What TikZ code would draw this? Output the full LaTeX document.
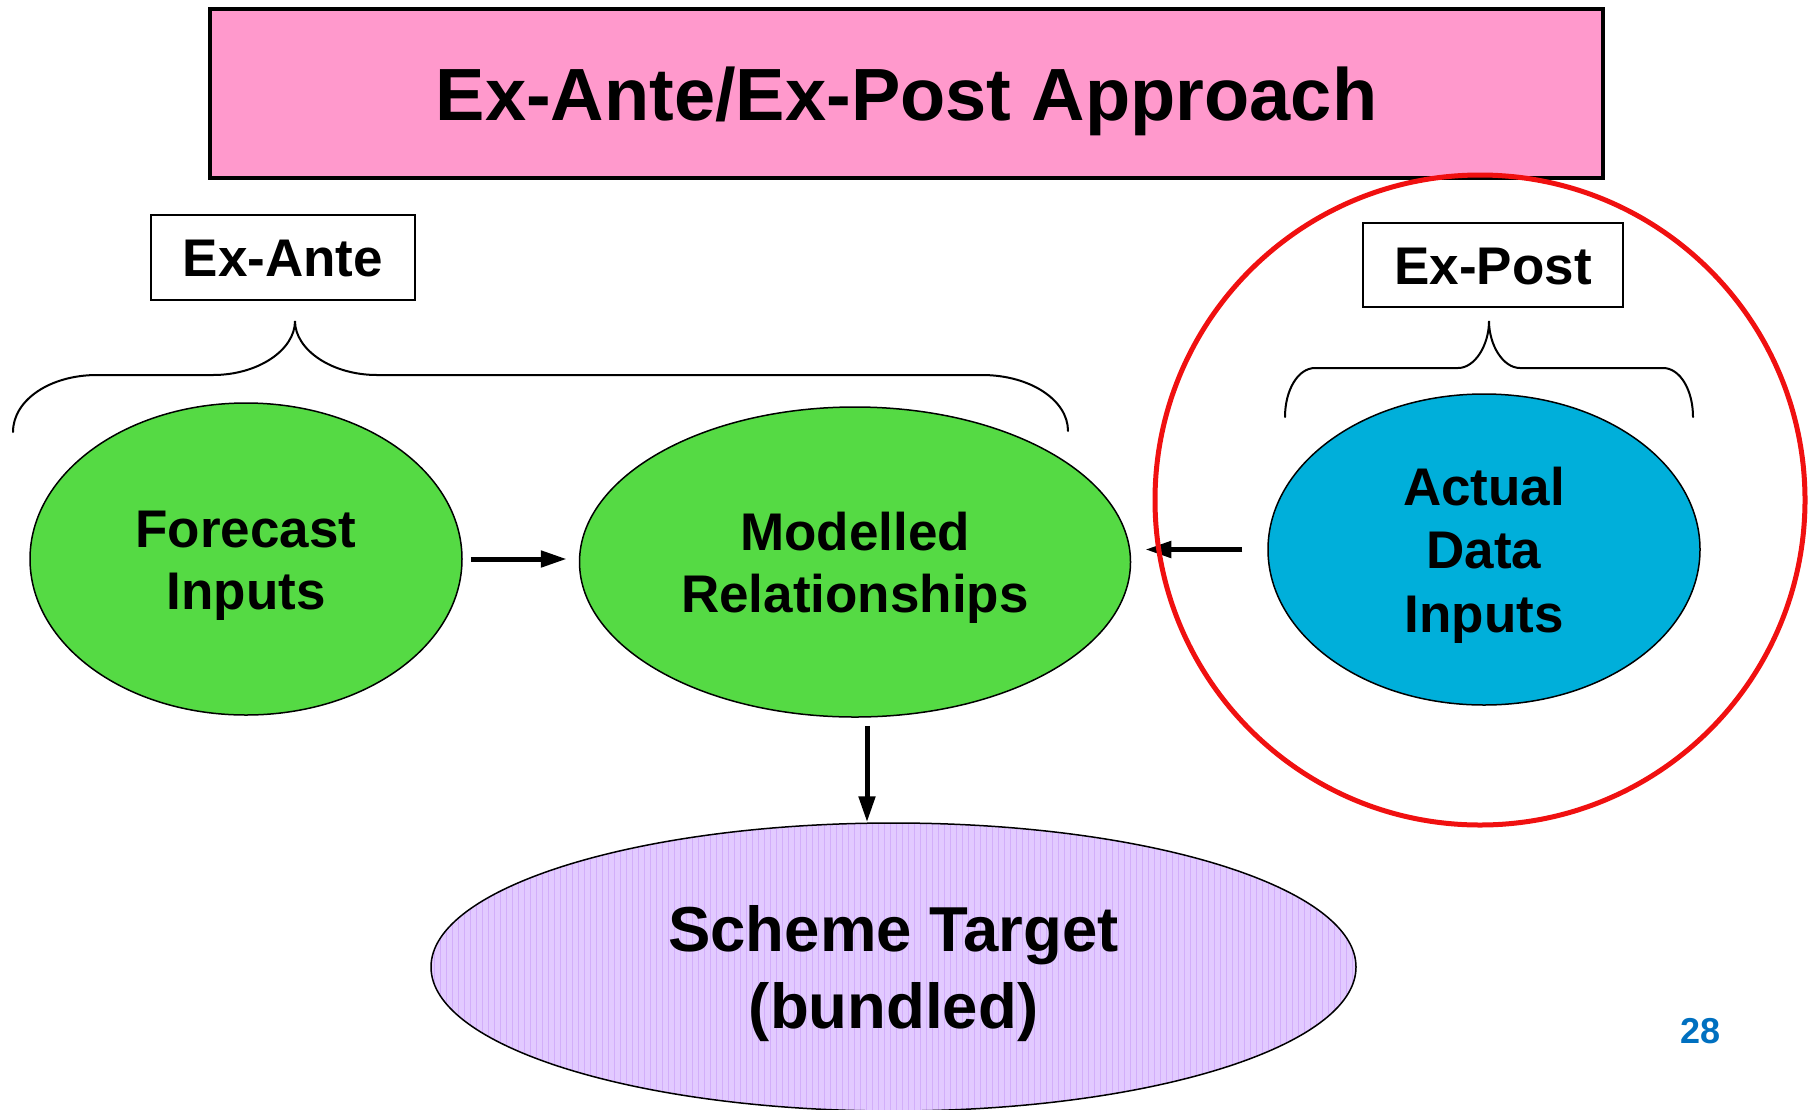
\documentclass[tikz,border=0pt]{standalone}
\usepackage{fontspec}
\setmainfont{Liberation Sans}
\usetikzlibrary{arrows.meta,shapes.geometric}
\definecolor{titlepink}{HTML}{FF99CC}
\definecolor{leafgreen}{HTML}{55DA44}
\definecolor{skyblue}{HTML}{00AFDA}
\definecolor{lavender}{RGB}{226,202,255}
\definecolor{lavgrid}{RGB}{210,174,250}
\definecolor{pageblue}{HTML}{0070C0}
\definecolor{ringred}{HTML}{F01010}
\tikzset{
  % text box reaches from the top of the first line's capitals down to the
  % last baseline, so the lettering sits centred in its shape
  capcentre/.style={text height=#1, text depth=0pt},
  blob/.style={ellipse, draw=black, line width=1.5, inner sep=0pt, align=center,
    capcentre=100pt, font=\bfseries\fontsize{53}{62}\selectfont},
  tagbox/.style={rectangle, draw=black, line width=1.5, inner sep=0pt,
    capcentre=38pt, font=\bfseries\fontsize{53}{60}\selectfont},
  arr/.style={line width=5, -{Triangle[length=26,width=16]}},
  brace/.style={line width=2, line cap=round}
}
\begin{document}
\begin{tikzpicture}[x=1pt,y=-1pt]
\useasboundingbox (0,0) rectangle (1811,1109);

% title banner
\node (title) [rectangle, draw=black, line width=4, fill=titlepink,
  minimum width=1393, minimum height=169, inner sep=0pt, capcentre=53pt,
  font=\bfseries\fontsize{74}{80}\selectfont] at (906.5,93.5) {Ex-Ante/Ex-Post Approach};

% group labels
\node (ante) [tagbox, minimum width=264, minimum height=85] at (283,257.5) {Ex-Ante};
\node (post) [tagbox, minimum width=260, minimum height=84] at (1493,265) {Ex-Post};

% braces
\draw[brace] (13,432) .. controls (13,400) and (50,375) .. (97,375) -- (213,375)
  .. controls (258,375) and (295,350) .. (295,321)
  .. controls (295,350) and (332,375) .. (377,375) -- (982,375)
  .. controls (1030,375) and (1068,400) .. (1068,431);
\draw[brace] (1285,417) .. controls (1285,390) and (1298,368) .. (1315,368) -- (1458,368)
  .. controls (1475,368) and (1489,345) .. (1489,321)
  .. controls (1489,345) and (1503,368) .. (1520,368) -- (1663,368)
  .. controls (1680,368) and (1693,390) .. (1693,417);

% process ellipses
\node (fc) [blob, fill=leafgreen, minimum width=432, minimum height=312] at (246,559) {Forecast\\Inputs};
\node (mr) [blob, fill=leafgreen, minimum width=551, minimum height=310] at (855,562) {Modelled\\Relationships};
\node (adi) [blob, fill=skyblue, minimum width=432, minimum height=311, capcentre=165pt,
  font=\bfseries\fontsize{53}{63.5}\selectfont] at (1484,549.5) {Actual\\Data\\Inputs};
\node (st) [blob, fill=lavender, minimum width=925, minimum height=288, capcentre=122.5pt,
  font=\bfseries\fontsize{63.5}{77}\selectfont,
  path picture={\draw[lavgrid, line width=1, step=6]
    (path picture bounding box.south west) grid (path picture bounding box.north east);}]
  at (893.5,967) {Scheme Target\\(bundled)};

% connectors
\draw[arr, shorten <=8, shorten >=12] (fc.east) -- (fc.east -| mr.west);
\draw[arr, shorten <=25, shorten >=14] (adi.west) -- (adi.west -| mr.east);
\draw[arr, shorten <=8] ([xshift=12]mr.south) -- ([xshift=12]mr.south |- st.north);

% ex-post highlight ring
\node (ring) [circle, draw=ringred, line width=5, minimum size=650, inner sep=0pt] at (1480,500) {};

% page number
\node (page) [text=pageblue, capcentre=26pt, inner sep=0pt,
  font=\bfseries\fontsize{36}{40}\selectfont] at (1700,1030) {28};
\end{tikzpicture}
\end{document}
